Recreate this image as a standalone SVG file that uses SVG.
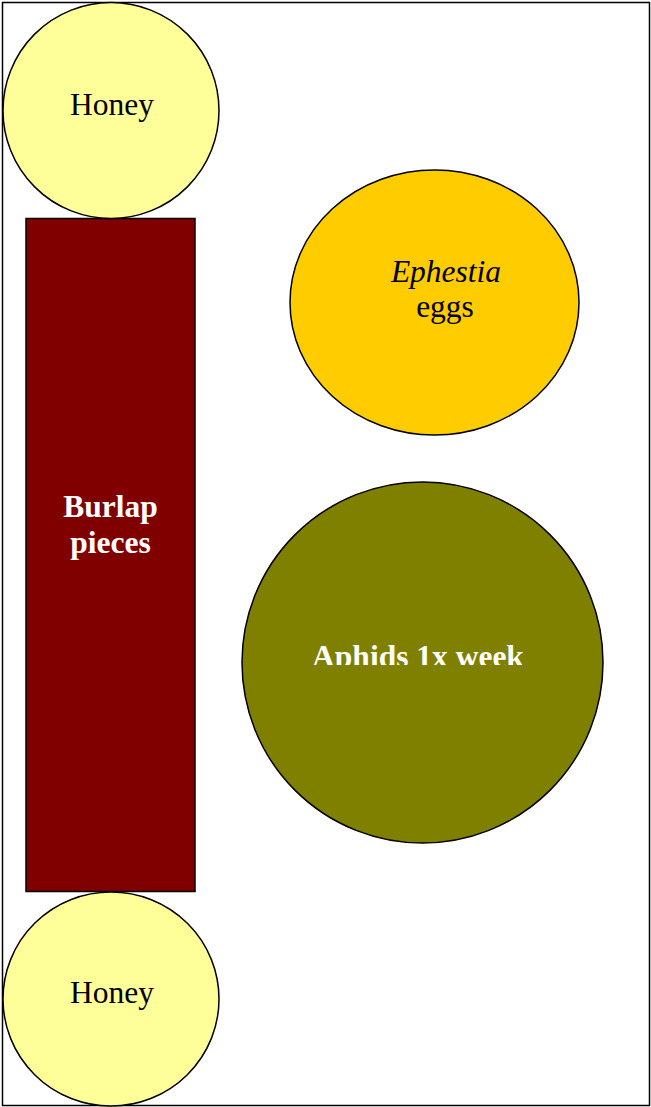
<svg xmlns="http://www.w3.org/2000/svg" width="651" height="1107" viewBox="0 0 651 1107">
<style>
.shape{stroke:#000;stroke-width:1.5}
.t{font-family:"Liberation Serif","Times New Roman",serif;font-size:31.5px;text-anchor:middle}
.b{font-weight:bold;fill:#fff}
</style>
<defs>
<clipPath id="aclip"><rect x="240" y="480" width="370" height="185"/></clipPath>
</defs>
<rect x="0" y="0" width="651" height="1107" fill="#fff"/>
<rect x="2.5" y="2.5" width="647" height="1103" fill="none" stroke="#000" stroke-width="1.5"/>
<g id="connectors"></g>
<g id="burlap">
<rect class="shape" x="26" y="218.5" width="169" height="673" fill="#800000"/>
<text class="t b" x="110.5" y="517">Burlap</text>
<text class="t b" x="110.5" y="553">pieces</text>
</g>
<g id="honey-top">
<ellipse class="shape" cx="111" cy="110.5" rx="108" ry="108" fill="#FFFF99"/>
<text class="t" x="112" y="115">Honey</text>
</g>
<g id="honey-bottom">
<ellipse class="shape" cx="111" cy="999" rx="108" ry="107" fill="#FFFF99"/>
<text class="t" x="112" y="1003">Honey</text>
</g>
<g id="ephestia">
<ellipse class="shape" cx="434.5" cy="302.5" rx="144.5" ry="132.5" fill="#FFCC00"/>
<text class="t" x="446" y="282" font-style="italic">Ephestia</text>
<text class="t" x="445" y="317">eggs</text>
</g>
<g id="aphids">
<circle class="shape" cx="422.5" cy="662.5" r="180.5" fill="#808000"/>
<text class="t b" x="418" y="667" clip-path="url(#aclip)">Aphids 1x week</text>
</g>
</svg>
